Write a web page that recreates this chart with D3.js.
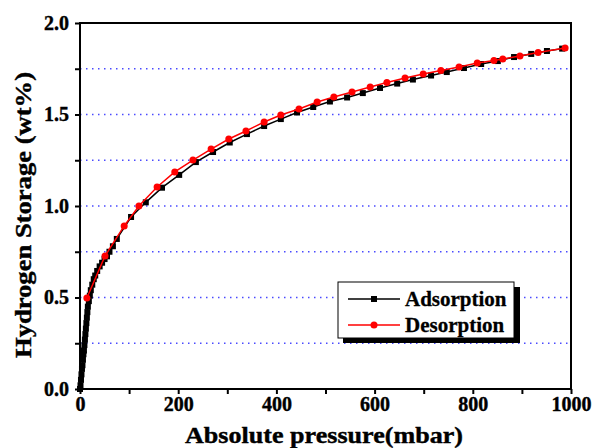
<!DOCTYPE html>
<html>
<head>
<meta charset="utf-8">
<script src="https://cdn.jsdelivr.net/npm/d3@7"></script>
<style>
  body { margin: 0; background: #fff; }
  text { font-family: "Liberation Serif", "Times New Roman", serif; font-weight: bold; }
</style>
</head>
<body>
<svg id="chart" width="593" height="448"></svg>
<script>
// Adsorption (black squares)
const adsP = [0, 1, 2, 3, 4, 5, 6, 7, 8, 9, 10, 11, 12, 13, 14, 15, 16, 18, 20, 22, 25, 28, 31, 35, 40, 45, 50, 55, 60, 67, 75,
  104, 134, 167, 202, 236, 271, 305, 340, 375, 409, 442, 475, 509, 544, 576, 611, 646, 678, 715, 747, 782, 817, 851, 884, 919, 951, 982];
const adsV = [0, 0.02, 0.05, 0.08, 0.11, 0.13, 0.16, 0.19, 0.21, 0.24, 0.27, 0.30, 0.33, 0.36, 0.39, 0.42, 0.45, 0.48, 0.51, 0.54, 0.57, 0.60, 0.62, 0.645, 0.67, 0.69, 0.71, 0.725, 0.75, 0.78, 0.82,
  0.94, 1.02, 1.10, 1.17, 1.24, 1.295, 1.347, 1.393, 1.437, 1.475, 1.511, 1.541, 1.571, 1.593, 1.617, 1.645, 1.669, 1.691, 1.713, 1.732, 1.754, 1.776, 1.792, 1.814, 1.831, 1.847, 1.86];

// Desorption (red circles)
const desP = [14, 51, 90, 120, 157, 193, 230, 267, 303, 338, 375, 409, 446, 483, 517, 554, 591, 625, 662, 699, 735, 772, 809, 843, 861, 896, 933, 988];
const desV = [0.497, 0.727, 0.891, 1.0, 1.104, 1.186, 1.251, 1.311, 1.366, 1.41, 1.459, 1.497, 1.53, 1.568, 1.596, 1.623, 1.65, 1.675, 1.699, 1.721, 1.74, 1.76, 1.781, 1.795, 1.803, 1.82, 1.839, 1.863];

const xTicks = [0, 200, 400, 600, 800, 1000];
const yTicks = [0.0, 0.5, 1.0, 1.5, 2.0];
const gridLevels = [0.25, 0.5, 0.75, 1.0, 1.25, 1.5, 1.75];

const svg = d3.select("#chart");

const x = d3.scaleLinear().domain([0, 1000]).range([80, 571]);
const y = d3.scaleLinear().domain([0, 2]).range([389, 23]);

// grid lines
svg.append("g")
  .selectAll("line")
  .data(gridLevels).enter()
  .append("line")
  .attr("x1", x(0)).attr("x2", x(1000))
  .attr("y1", d => y(d)).attr("y2", d => y(d))
  .style("stroke", "#4a4aff")
  .style("stroke-width", 1.5)
  .style("stroke-dasharray", "1.5,4.5");

// frame
svg.append("rect")
  .attr("x", x(0)).attr("y", y(2))
  .attr("width", x(1000) - x(0)).attr("height", y(0) - y(2))
  .style("fill", "none").style("stroke", "black").style("stroke-width", 2);

// X axis
const xAxis = svg.append("g")
  .attr("transform", "translate(0," + y(0) + ")")
  .call(d3.axisBottom(x).tickValues(d3.range(0, 1001, 100)).tickSize(5)
    .tickFormat(d => xTicks.includes(d) ? d : ""));
xAxis.select(".domain").remove();
xAxis.selectAll("line").style("stroke-width", 2);
xAxis.selectAll("text").style("font-size", "20px").attr("y", 8).attr("dy", "0.71em")
  .style("font-family", "Liberation Serif").style("font-weight", "bold")
  .style("stroke", "black").style("stroke-width", 0.4);

// Y axis
const yAxis = svg.append("g")
  .attr("transform", "translate(" + x(0) + ",0)")
  .call(d3.axisLeft(y).tickValues(d3.range(0, 2.01, 0.25)).tickSize(5)
    .tickFormat(d => yTicks.some(t => Math.abs(t - d) < 1e-9) ? d3.format(".1f")(d) : ""));
yAxis.select(".domain").remove();
yAxis.selectAll("line").style("stroke-width", 2);
yAxis.selectAll("text").style("font-size", "20px").attr("x", -11)
  .style("font-family", "Liberation Serif").style("font-weight", "bold")
  .style("stroke", "black").style("stroke-width", 0.4);

// axis titles
svg.append("text")
  .attr("x", 324).attr("y", 443)
  .attr("text-anchor", "middle")
  .attr("textLength", 278).attr("lengthAdjust", "spacingAndGlyphs")
  .style("font-size", "23px").style("stroke", "black").style("stroke-width", 0.4)
  .text("Absolute pressure(mbar)");

svg.append("text")
  .attr("transform", "translate(31,215) rotate(-90)")
  .attr("text-anchor", "middle")
  .attr("textLength", 286).attr("lengthAdjust", "spacingAndGlyphs")
  .style("font-size", "23px").style("stroke", "black").style("stroke-width", 0.4)
  .text("Hydrogen Storage (wt%)");

const ads = adsP.map((p, i) => [p, adsV[i]]);
const des = desP.map((p, i) => [p, desV[i]]);
const line = d3.line().x(d => x(d[0])).y(d => y(d[1]));

// adsorption
svg.append("path").datum(ads).attr("d", line)
  .style("fill", "none").style("stroke", "black").style("stroke-width", 1.5);
svg.append("g").selectAll("rect").data(ads).enter()
  .append("rect")
  .attr("x", d => x(d[0]) - 3).attr("y", d => y(d[1]) - 3)
  .attr("width", 6).attr("height", 6)
  .style("fill", "black");

// desorption
svg.append("path").datum(des).attr("d", line)
  .style("fill", "none").style("stroke", "red").style("stroke-width", 1.5);
svg.append("g").selectAll("circle").data(des).enter()
  .append("circle")
  .attr("cx", d => x(d[0])).attr("cy", d => y(d[1]))
  .attr("r", 3.5)
  .style("fill", "red");

// legend
const lg = svg.append("g");
lg.append("rect").attr("x", 343).attr("y", 287).attr("width", 177).attr("height", 56).style("fill", "black");
lg.append("rect").attr("x", 338).attr("y", 282).attr("width", 176).attr("height", 56)
  .style("fill", "white").style("stroke", "black").style("stroke-width", 1);

const legendItems = [
  { name: "Adsorption", color: "black", shape: "square", yy: 299 },
  { name: "Desorption", color: "red", shape: "circle", yy: 325 }
];
legendItems.forEach(it => {
  lg.append("line").attr("x1", 348).attr("x2", 400).attr("y1", it.yy).attr("y2", it.yy)
    .style("stroke", it.color).style("stroke-width", 1.5);
  if (it.shape === "square") {
    lg.append("rect").attr("x", 371).attr("y", it.yy - 3).attr("width", 6).attr("height", 6).style("fill", it.color);
  } else {
    lg.append("circle").attr("cx", 374).attr("cy", it.yy).attr("r", 3.5).style("fill", it.color);
  }
  lg.append("text").attr("x", 405).attr("y", it.yy + 7)
    .style("font-size", "21px").style("stroke", "black").style("stroke-width", 0.3)
    .text(it.name);
});
</script>
</body>
</html>
